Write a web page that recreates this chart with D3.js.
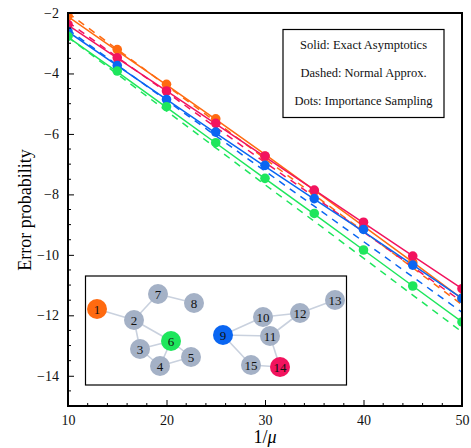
<!DOCTYPE html>
<html>
<head>
<meta charset="utf-8">
<script src="https://cdn.jsdelivr.net/npm/d3@7"></script>
<style>
  body { margin: 0; background: #fff; }
  text { font-family: "Liberation Serif", "DejaVu Serif", serif; }
</style>
</head>
<body>
<script>
// x positions (1/mu)
var xs = [10, 15, 20, 25, 30, 35, 40, 45, 50];

// importance sampling dots (log error probability)
var dotsOrange = [-2.10, -3.21, -4.36, -5.50, -6.74, -7.90, -9.09, -10.25, -11.43];
var dotsPink   = [-2.38, -3.48, -4.58, -5.65, -6.73, -7.86, -8.92, -10.04, -11.12];
var dotsBlue   = [-2.61, -3.74, -4.86, -5.94, -7.04, -8.14, -9.16, -10.34, -11.44];
var dotsGreen  = [-2.77, -3.92, -5.10, -6.29, -7.47, -8.63, -9.84, -11.03, -12.22];

// exact asymptotics (solid)
var solidOrange = [-2.12, -3.25, -4.38, -5.52, -6.68, -7.86, -9.05, -10.24, -11.45];
var solidPink   = [-2.40, -3.49, -4.58, -5.67, -6.76, -7.85, -8.94, -10.03, -11.12];
var solidBlue   = [-2.62, -3.74, -4.86, -5.97, -7.07, -8.16, -9.23, -10.33, -11.44];
var solidGreen  = [-2.80, -3.95, -5.12, -6.30, -7.48, -8.65, -9.84, -11.03, -12.22];

// normal approximation (dashed)
var dashOrange = [-2.00, -3.20, -4.40, -5.60, -6.82, -8.02, -9.22, -10.43, -11.65];
var dashPink   = [-2.30, -3.46, -4.62, -5.78, -6.94, -8.08, -9.24, -10.40, -11.55];
var dashBlue   = [-2.55, -3.72, -4.89, -6.06, -7.23, -8.39, -9.56, -10.73, -11.90];
var dashGreen  = [-2.80, -4.02, -5.24, -6.46, -7.68, -8.89, -10.11, -11.33, -12.55];

var colors = ["#ff6a10", "#f2135e", "#0a66f2", "#1ee65c"];
var series = [
  { c: colors[0], dots: dotsOrange, solid: solidOrange, dash: dashOrange },
  { c: colors[1], dots: dotsPink,   solid: solidPink,   dash: dashPink },
  { c: colors[2], dots: dotsBlue,   solid: solidBlue,   dash: dashBlue },
  { c: colors[3], dots: dotsGreen,  solid: solidGreen,  dash: dashGreen }
];

var xTicks = [10, 20, 30, 40, 50];
var yTicks = [-2, -4, -6, -8, -10, -12, -14];
var legendLines = ["Solid: Exact Asymptotics", "Dashed: Normal Approx.", "Dots: Importance Sampling"];

// inset graph
var nodes = [
  { id: 1, x: 97, y: 309, c: colors[0] },
  { id: 2, x: 134, y: 320 },
  { id: 3, x: 140, y: 349 },
  { id: 4, x: 160, y: 366 },
  { id: 5, x: 191, y: 357 },
  { id: 6, x: 171, y: 341, c: colors[3] },
  { id: 7, x: 158, y: 294 },
  { id: 8, x: 194, y: 303 },
  { id: 9, x: 223, y: 335, c: colors[2] },
  { id: 10, x: 263, y: 317 },
  { id: 11, x: 270, y: 336 },
  { id: 12, x: 300, y: 313 },
  { id: 13, x: 335, y: 300 },
  { id: 14, x: 280, y: 367, c: colors[1] },
  { id: 15, x: 251, y: 365 }
];
var edges = [[1,2],[2,7],[7,8],[2,3],[2,6],[3,6],[3,4],[4,6],[4,5],[5,6],
             [9,10],[9,11],[9,15],[10,12],[11,12],[12,13],[11,14],[15,14]];

var W = 471, H = 448;
var svg = d3.select("body").append("svg").attr("width", W).attr("height", H);

var x = d3.scaleLinear().domain([10, 50]).range([68, 462]);
var y = d3.scaleLinear().domain([-15, -2]).range([406, 13]);

svg.append("clipPath").attr("id", "clip")
  .append("rect").attr("x", 68).attr("y", 13).attr("width", 394).attr("height", 393);

var plot = svg.append("g").attr("clip-path", "url(#clip)");

var line = d3.line().x(function (d, i) { return x(xs[i]); }).y(function (d) { return y(d); });

series.forEach(function (s) {
  plot.append("path").attr("d", line(s.dash)).attr("fill", "none")
    .attr("stroke", s.c).attr("stroke-width", 1.5).attr("stroke-dasharray", "7,6");
});
series.forEach(function (s) {
  plot.append("path").attr("d", line(s.solid)).attr("fill", "none")
    .attr("stroke", s.c).attr("stroke-width", 1.5);
});
series.forEach(function (s) {
  plot.selectAll(null).data(s.dots).enter().append("circle")
    .attr("cx", function (d, i) { return x(xs[i]); })
    .attr("cy", function (d) { return y(d); })
    .attr("r", 4.8).attr("fill", s.c);
});

// axes: ticks inward
var xAxis = d3.axisBottom(x).tickValues(xTicks).tickSize(-6).tickPadding(9).tickFormat(d3.format("d"));
var gx = svg.append("g").attr("transform", "translate(0,406)").call(xAxis);
var yAxis = d3.axisLeft(y).tickValues(yTicks).tickSize(-6).tickPadding(9)
  .tickFormat(function (d) { return "\u2212" + Math.abs(d); });
var gy = svg.append("g").attr("transform", "translate(68,0)").call(yAxis);
[gx, gy].forEach(function (g) {
  g.select(".domain").remove();
  g.selectAll("text").attr("font-size", 14).attr("fill", "#111")
    .style("font-family", "'Liberation Serif', serif");
  g.selectAll("line").attr("stroke", "#000").attr("stroke-width", 1);
});

// minor ticks
svg.selectAll(".mx").data(d3.range(12, 50, 2).filter(function (v) { return v % 10 !== 0; }))
  .enter().append("line")
  .attr("x1", function (d) { return x(d); }).attr("x2", function (d) { return x(d); })
  .attr("y1", 406).attr("y2", 403).attr("stroke", "#000");
svg.selectAll(".my").data(d3.range(-14.5, -2, 0.5).filter(function (v) { return v % 2 !== 0; }))
  .enter().append("line")
  .attr("y1", function (d) { return y(d); }).attr("y2", function (d) { return y(d); })
  .attr("x1", 68).attr("x2", 71).attr("stroke", "#000");

// frame
svg.append("rect").attr("x", 68).attr("y", 13).attr("width", 394).attr("height", 393)
  .attr("fill", "none").attr("stroke", "#000").attr("stroke-width", 2);

// axis titles
svg.append("text").attr("x", 265).attr("y", 443).attr("text-anchor", "middle")
  .attr("font-size", 18).html("1/<tspan font-style='italic'>\u03bc</tspan>");
svg.append("text").attr("transform", "translate(31,210) rotate(-90)").attr("text-anchor", "middle")
  .attr("font-size", 18).text("Error probability");

// legend box
svg.append("rect").attr("x", 283).attr("y", 29.5).attr("width", 161).attr("height", 88)
  .attr("fill", "#fff").attr("stroke", "#000").attr("stroke-width", 1.2);
svg.selectAll(".leg").data(legendLines).enter().append("text")
  .attr("x", 363.5).attr("y", function (d, i) { return 49 + i * 27.8; })
  .attr("text-anchor", "middle").attr("font-size", 12.5).attr("fill", "#111")
  .text(function (d) { return d; });

// inset
svg.append("rect").attr("x", 85.5).attr("y", 276).attr("width", 261).attr("height", 109)
  .attr("fill", "#fff").attr("stroke", "#000").attr("stroke-width", 1.2);
var byId = {};
nodes.forEach(function (n) { byId[n.id] = n; });
svg.selectAll(".edge").data(edges).enter().append("line")
  .attr("x1", function (d) { return byId[d[0]].x; }).attr("y1", function (d) { return byId[d[0]].y; })
  .attr("x2", function (d) { return byId[d[1]].x; }).attr("y2", function (d) { return byId[d[1]].y; })
  .attr("stroke", "#c9d1de").attr("stroke-width", 1.6);
svg.selectAll(".node").data(nodes).enter().append("circle")
  .attr("cx", function (d) { return d.x; }).attr("cy", function (d) { return d.y; })
  .attr("r", 10).attr("fill", function (d) { return d.c || "#a4b1c6"; });
svg.selectAll(".nlab").data(nodes).enter().append("text")
  .attr("x", function (d) { return d.x; }).attr("y", function (d) { return d.y + 4.5; })
  .attr("text-anchor", "middle").attr("font-size", 13).attr("fill", "#111")
  .text(function (d) { return d.id; });
</script>
</body>
</html>
